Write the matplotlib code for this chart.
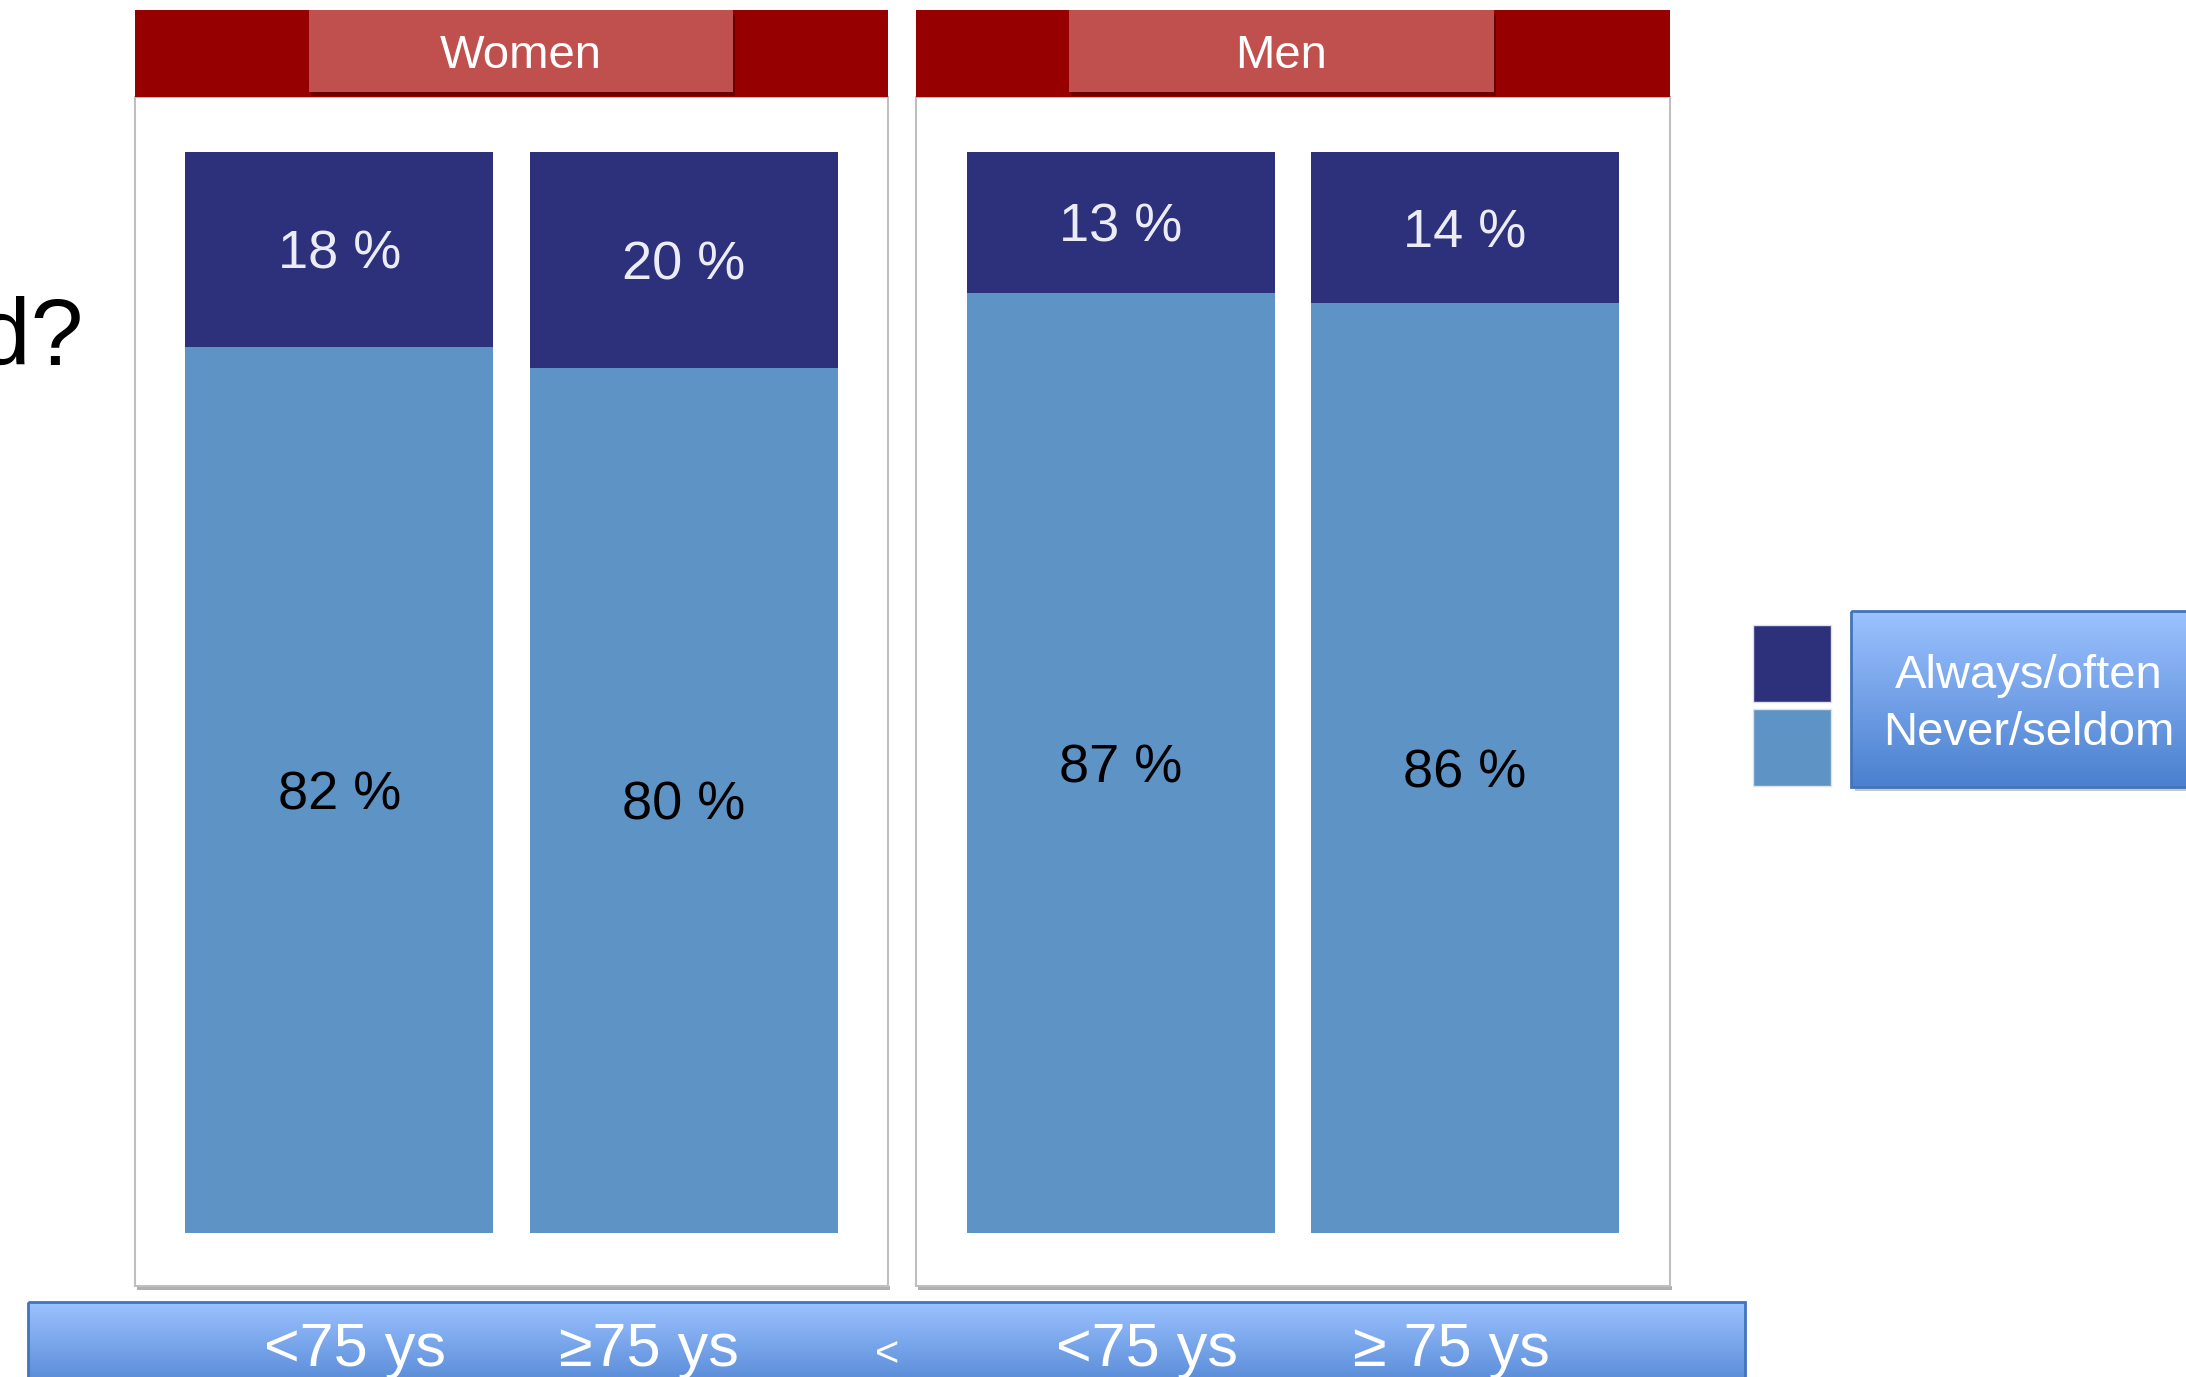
import numpy as np
import matplotlib
matplotlib.use("Agg")
from matplotlib import pyplot as plt
from matplotlib.patches import Rectangle

plt.rcParams['font.family'] = ['Liberation Sans', 'DejaVu Sans']

# data
groups = ['Women', 'Men']
women_always = [18, 20]
women_never = [82, 80]
men_always = [13, 14]
men_never = [87, 86]
strip_labels = ['<75 ys', '≥75 ys', '<', '<75 ys', '≥ 75 ys']
legend_labels = ['Always/often', 'Never/seldom']

DARK = '#2D307A'
LIGHT = '#5E93C6'
RED = '#960000'
RED_BOX = '#C0504D'
GREY = '#BFBFBF'

W, H = 2186, 1377
fig = plt.figure(figsize=(W / 100, H / 100), dpi=100)

# background axes in pixel units (y downwards)
bg = fig.add_axes([0, 0, 1, 1])
bg.set_xlim(0, W)
bg.set_ylim(H, 0)
bg.axis('off')


def px_axes(x0, y0, x1, y1):
    return fig.add_axes([x0 / W, 1 - y1 / H, (x1 - x0) / W, (y1 - y0) / H])


def gradient_box(x0, y0, x1, y1, top='#9CC2FF', bottom='#4A80CF', edge='#4274BA'):
    grad = np.linspace(0, 1, 256).reshape(-1, 1)
    c0 = np.array(matplotlib.colors.to_rgb(top))
    c1 = np.array(matplotlib.colors.to_rgb(bottom))
    img = c0[None, None, :] * (1 - grad[:, :, None]) + c1[None, None, :] * grad[:, :, None]
    bg.imshow(img, extent=(x0, x1, y1, y0), aspect='auto', zorder=2, interpolation='bilinear')
    bg.add_patch(Rectangle((x0, y0), x1 - x0, y1 - y0, fill=False, ec=edge, lw=2, zorder=3))


# panels + headers
panels = {'Women': (135, 888, 309, 733), 'Men': (916, 1670, 1069, 1494)}
for name in groups:
    x0, x1, bx0, bx1 = panels[name]
    bg.add_patch(Rectangle((x0 + 2, 1286), x1 - x0, 4, fc='#B0B0B0', ec='none', zorder=0))
    bg.add_patch(Rectangle((x0, 97), x1 - x0, 1286 - 97, fc='white', ec=GREY, lw=1.5, zorder=1))
    bg.add_patch(Rectangle((x0, 10), x1 - x0, 87, fc=RED, ec='none', zorder=2))
    bg.add_patch(Rectangle((bx0 + 2, 14), bx1 - bx0, 82, fc='#6A0000', ec='none', zorder=2))
    bg.add_patch(Rectangle((bx0, 10), bx1 - bx0, 82, fc=RED_BOX, ec='none', zorder=3))
    bg.text((bx0 + bx1) / 2, 68, name, color='white', fontsize=34,
            ha='center', va='baseline', zorder=4)

# partial question text cut at the left edge (as on the slide)
bg.text(83, 365, 'd?', fontsize=68, ha='right', va='baseline', color='black')

# bars
bar_w = 0.895
bar_axes = [(px_axes(185, 152, 838, 1233), women_always, women_never),
            (px_axes(967, 152, 1619, 1233), men_always, men_never)]
for ax, always, never in bar_axes:
    x = np.arange(len(always))
    ax.bar(x, never, width=bar_w, color=LIGHT)
    ax.bar(x, always, width=bar_w, bottom=never, color=DARK)
    ax.set_xlim(-bar_w / 2, len(always) - 1 + bar_w / 2)
    ax.set_ylim(0, 100)
    ax.axis('off')
    ax.patch.set_alpha(0)
    fs = 39
    for i in range(len(always)):
        ax.annotate(f'{always[i]} %', (x[i], never[i] + always[i] / 2),
                    xytext=(0, -0.716 * fs / 2), textcoords='offset points',
                    ha='center', va='baseline', fontsize=fs, color='#ECECF6')
        ax.annotate(f'{never[i]} %', (x[i], never[i] / 2),
                    xytext=(0, -0.716 * fs / 2), textcoords='offset points',
                    ha='center', va='baseline', fontsize=fs, color='black')

# bottom strip with age bands
gradient_box(28, 1302, 1745, 1400)
strip_x = [355, 649, 887, 1147, 1451]
for xx, lab in zip(strip_x, strip_labels):
    size = 30 if lab == '<' else 44
    bg.text(xx, 1366, lab, color='white', fontsize=size, ha='center', va='baseline', zorder=5)

# legend
bg.add_patch(Rectangle((1753, 625), 78, 77, fc=DARK, ec='#E0E0F0', lw=1, zorder=2))
bg.add_patch(Rectangle((1753, 709), 78, 77, fc=LIGHT, ec='#E0E0F0', lw=1, zorder=2))
bg.add_patch(Rectangle((1855, 614), 400, 177, fc='#C8C8C8', ec='none', zorder=1))
gradient_box(1851, 611, 2260, 787)
bg.text(2029, 688, legend_labels[0], color='white', fontsize=34, ha='center', va='baseline', zorder=5)
bg.text(2029, 745, legend_labels[1], color='white', fontsize=34, ha='center', va='baseline', zorder=5)

fig.savefig('out.png', dpi=100)
